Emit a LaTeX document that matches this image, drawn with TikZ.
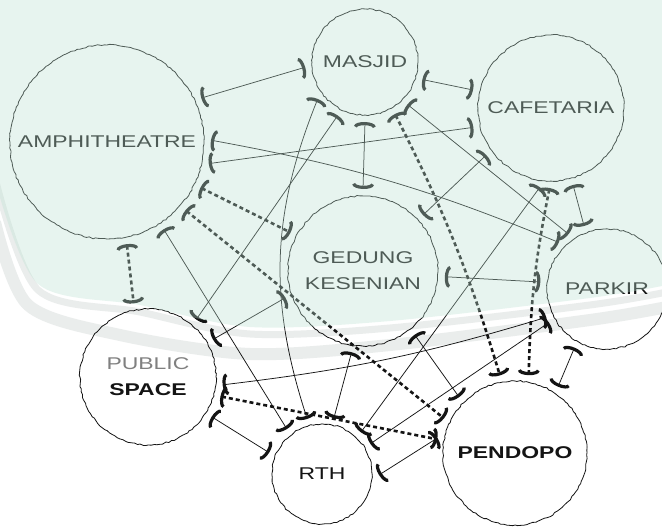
\documentclass[tikz,border=0pt]{standalone}
\usepackage{fontspec}
\newfontfamily\archfont[FakeStretch=1.35]{Liberation Sans}
\usetikzlibrary{arrows.meta,decorations.pathmorphing}
\definecolor{mintov}{RGB}{189,226,211}
\definecolor{inkc}{RGB}{20,20,20}
\definecolor{bandc}{RGB}{234,237,236}
\tikzset{
  paren/.tip={Arc Barb[width=22pt,length=5pt,line width=3.2pt]},
  place/.style={circle, draw=inkc, line width=0.8pt, inner sep=0pt, outer sep=7pt,
    decorate, decoration={random steps, segment length=3pt, amplitude=0.7pt},
    font=\archfont\fontsize{17}{26}\selectfont, align=center, text=inkc},
  link/.style={draw=inkc, line width=0.75pt, paren-paren},
  dotlink/.style={draw=inkc, line width=2.6pt, dash pattern=on 4pt off 3pt, paren-paren},
  wmband/.style={bandc, line width=#1, line join=round},
}
\begin{document}
\begin{tikzpicture}[x=1pt,y=-1pt]
\useasboundingbox (0,0) rectangle (662,527);
\fill[white] (0,0) rectangle (662,527);
\draw[wmband=7pt] plot[smooth] coordinates {(-5,178) (38,290) (140,312) (250,334) (390,328) (590,305) (667,292)};
\draw[wmband=12pt] plot[smooth] coordinates {(-5,222) (28,305) (120,335) (250,354) (390,345) (590,320) (667,307)};

\node[place, minimum size=194pt] (amph) at (107,142) {AMPHITHEATRE};
\node[place, minimum size=106pt] (masjid) at (365,62) {MASJID};
\node[place, minimum size=146pt] (caf) at (551,108) {CAFETARIA};
\node[place, minimum size=150pt] (ged) at (363,271) {GEDUNG\\KESENIAN};
\node[place, minimum size=120pt] (park) at (607,289) {PARKIR};
\node[place, minimum size=136pt] (pub) at (148,377) {{\color{gray}PUBLIC}\\\textbf{SPACE}};
\node[place, minimum size=100pt] (rth) at (322,474) {RTH};
\node[place, minimum size=144pt] (pend) at (515,453) {\textbf{PENDOPO}};

\draw[link] (amph.25) -- (masjid.185);
\draw[link] (amph.348) -- (caf.194);
\draw[link] (amph.1) to[bend left=6] (park.136);
\draw[dotlink] (amph.334) -- (ged.152);
\draw[dotlink] (amph.319) -- (pend.154);
\draw[link] (amph.303) -- (rth.128);
\draw[dotlink] (amph.281) -- (pub.101);
\draw[link] (masjid.343) -- (caf.167);
\draw[link] (masjid.270) -- (ged.90);
\draw[link] (masjid.218) to[bend right=20] (rth.105);
\draw[link] (masjid.243) -- (pub.50);
\draw[dotlink] (masjid.300) to[bend left=5] (pend.101);
\draw[link] (masjid.315) -- (park.125);
\draw[link] (caf.216) -- (ged.43);
\draw[link] (caf.286) -- (park.110);
\draw[link] (caf.262) -- (rth.47);
\draw[dotlink] (caf.269) to[bend right=5] (pend.80);
\draw[link] (ged.356) -- (park.174);
\draw[link] (ged.199) -- (pub.30);
\draw[link] (ged.262) -- (rth.78);
\draw[link] (ged.309) -- (pend.135);
\draw[link] (pub.354) to[bend right=5] (park.205);
\draw[link] (park.210) -- (rth.32);
\draw[link] (park.241) -- (pend.57);
\draw[dotlink] (pub.345) -- (pend.170);
\draw[link] (pub.328) -- (rth.158);
\draw[link] (rth.359) -- (pend.169);

\fill[mintov, opacity=0.35] (-5,-5) -- plot[smooth] coordinates {(-5,180) (38,284) (140,305) (250,327) (390,321) (590,298) (667,285)} -- (667,-5) -- cycle;
\end{tikzpicture}
\end{document}
